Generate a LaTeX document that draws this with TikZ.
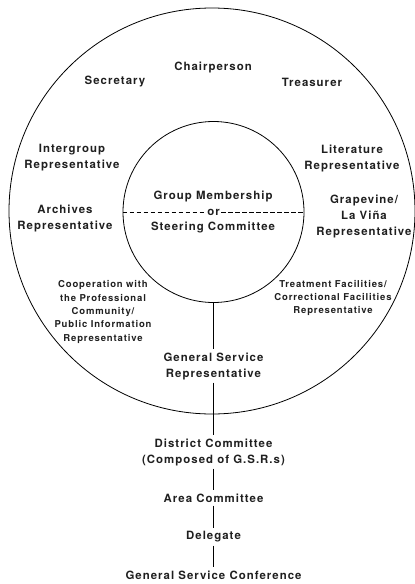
\documentclass[tikz,border=0pt]{standalone}
\usepackage{fontspec}
\newfontfamily\gsofont[LetterSpace=9]{TeX Gyre Heros}
\usepackage{tikz}
\usetikzlibrary{positioning}
\tikzset{
  ring/.style={circle,draw,line width=0.8pt,inner sep=0pt},
  lbl/.style={font=\gsofont\bfseries\fontsize{11.4}{16}\selectfont,align=center,inner sep=3pt,text=black!88},
  sml/.style={font=\gsofont\bfseries\fontsize{9.5}{13.4}\selectfont,align=center,inner sep=1pt,text=black!88},
  ln/.style={line width=1.6pt},
  dsh/.style={line width=0.8pt,dash pattern=on 4.8pt off 2.2pt}
}

\begin{document}
\begin{tikzpicture}[x=1pt,y=-1pt]
\useasboundingbox (0,0) rectangle (415,584);
% circles
\node[ring,minimum size=406pt] (outer) at (212,211) {};
\node[ring,minimum size=181pt] (grp) at (213.5,212) {};
% officers round the group
\node[lbl] (chair) at (213,67) {Chairperson};
\node[lbl] (sec) at (115,82) {Secretary};
\node[lbl] (treas) at (312,82) {Treasurer};
\node[lbl] (inter) at (72,158) {Intergroup\\Representative};
\node[lbl] (lit) at (352,158) {Literature\\Representative};
\node[lbl] (arch) at (65,218) {Archives\\Representative};
\node[lbl] (grape) at (364,216) {Grapevine/\\La Viña\\Representative};
\node[sml] (coop) at (103,312) {Cooperation with\\the Professional\\Community/\\Public Information\\Representative};
\node[sml] (treat) at (333,298) {Treatment Facilities/\\Correctional Facilities\\Representative};
% inside the group
\node[lbl] (memb) at (213,196) {Group Membership};
\node[lbl,inner sep=1.5pt] (or) at (213.5,212) {or};
\node[lbl] (steer) at (213,227) {Steering Committee};
\draw[dsh] (grp.west) -- (or.west);
\draw[dsh] (or.east) -- (grp.east);
% chain of service
\node[lbl] (gsr) at (213.5,366) {General Service\\Representative};
\node[lbl] (dist) at (213.5,452) {District Committee\\(Composed of G.S.R.s)};
\node[lbl] (area) at (213.5,498) {Area Committee};
\node[lbl] (dlg) at (213.5,537) {Delegate};
\node[lbl] (gsc) at (213.5,575) {General Service Conference};
\draw[ln] (grp.south) -- (gsr);
\draw[ln] (gsr) -- (dist);
\draw[ln] (dist) -- (area);
\draw[ln] (area) -- (dlg);
\draw[ln] (dlg) -- (gsc);
\end{tikzpicture}
\end{document}
